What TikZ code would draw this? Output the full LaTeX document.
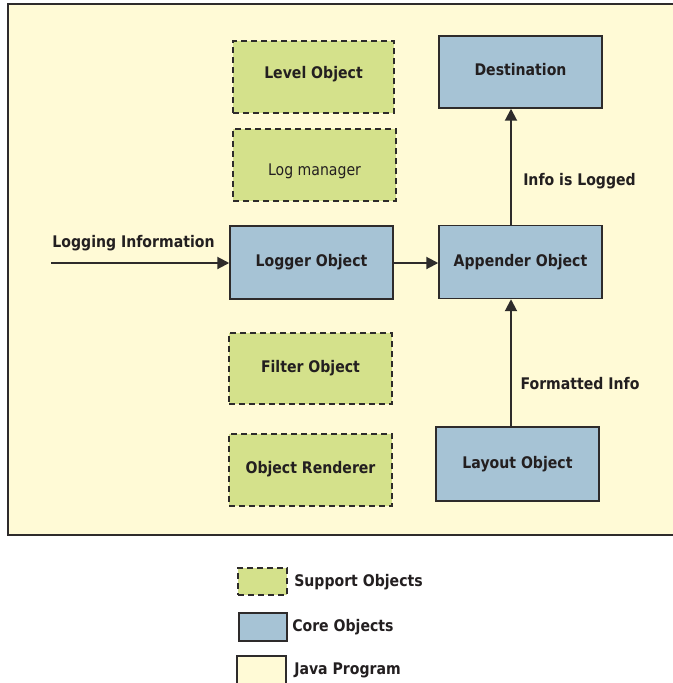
\documentclass[tikz,border=0pt]{standalone}
\usepackage{fontspec}
\setmainfont{DejaVu Sans}[FakeStretch=0.88]
\usetikzlibrary{arrows.meta}
\definecolor{progbg}{HTML}{FFFAD6}
\definecolor{supportfill}{HTML}{D4E18B}
\definecolor{corefill}{HTML}{A6C3D5}
\definecolor{edge}{HTML}{2E2B2B}
\definecolor{ink}{HTML}{231F20}
% shift a box label up or down while keeping its natural size
\newcommand{\nudge}[2]{\raisebox{#1}[\height][\depth]{#2}}
\begin{document}
\begin{tikzpicture}[x=0.75pt,y=-0.75pt,
  font=\fontsize{12}{14}\selectfont\bfseries,
  every node/.style={text=ink},
  box/.style={rectangle,draw=edge,line width=1.1pt,inner sep=0pt,
    minimum width=122.25pt,minimum height=54pt},
  supportbox/.style={box,fill=supportfill,dash pattern=on 4.5pt off 3pt},
  corebox/.style={box,fill=corefill},
  flow/.style={draw=edge,line width=1.5pt,-{Triangle[length=9pt,width=9pt]}},
  tag/.style={inner sep=0pt},
  legendtext/.style={inner sep=0pt,anchor=west}]
\useasboundingbox (0,0) rectangle (673,683);
\begin{scope}
\clip (0,0) rectangle (673,683);
% program frame, open past the right edge
\draw[fill=progbg,draw=edge,line width=2.2pt] (8,4) rectangle (700,535);

% support objects
\node[supportbox,minimum width=120.75pt] (level) at (313.5,77) {\nudge{2.5pt}{Level Object}};
\node[supportbox] (logmgr) at (314.5,165) {\nudge{-4.5pt}{\mdseries Log manager}};
\node[supportbox,minimum height=53.25pt] (filter) at (310.5,368.5) {Filter Object};
\node[supportbox] (renderer) at (310.5,470) {\nudge{1pt}{Object Renderer}};

% core objects
\node[corebox,minimum height=54.75pt] (logger) at (311.5,262.5) {Logger Object};
\node[corebox] (dest) at (520.5,72) {\nudge{1.5pt}{Destination}};
\node[corebox,minimum height=54.75pt] (appender) at (520.5,262) {Appender Object};
\node[corebox,minimum height=55.5pt] (layout) at (517.5,464) {Layout Object};

% connectors
\coordinate (src) at (51,263);
\coordinate (vline) at (511,0);
\draw[flow] (src) -- (src -| logger.west);
\draw[flow] (logger.east |- src) -- (appender.west |- src);
\draw[flow] (appender.north -| vline) -- (dest.south -| vline);
\draw[flow] (layout.north -| vline) -- (appender.south -| vline);

\node[tag] (lblin) at (133.5,243) {Logging Information};
\node[tag] (lbllog) at (579.5,181) {Info is Logged};
\node[tag] (lblfmt) at (580,384) {Formatted Info};

% legend
\node[supportbox,minimum width=36.75pt,minimum height=20.25pt] (keysupport) at (262.5,581.5) {};
\node[corebox,minimum width=36pt,minimum height=21pt] (keycore) at (263,627) {};
\node[box,fill=progbg,minimum width=36.75pt,minimum height=33pt] (keyprog) at (261.5,678) {};
\node[legendtext] (txtsupport) at (294,582) {Support Objects};
\node[legendtext] (txtcore) at (292,627) {Core Objects};
\node[legendtext] (txtprog) at (294,670) {Java Program};
\end{scope}
\end{tikzpicture}
\end{document}
